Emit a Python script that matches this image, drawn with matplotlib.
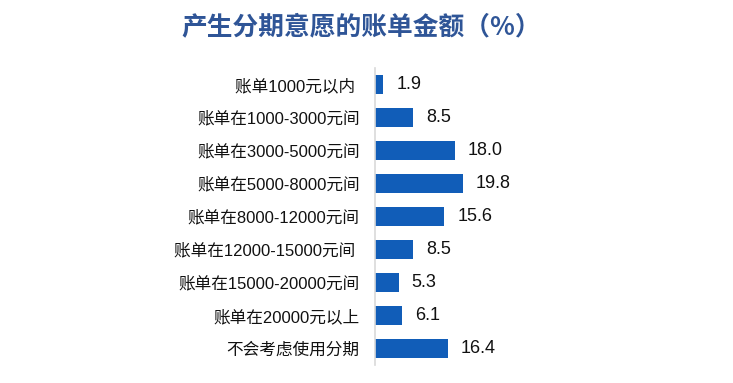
import matplotlib
matplotlib.use("Agg")
import matplotlib.pyplot as plt

categories = ["账单1000元以内 ", "账单在1000-3000元间", "账单在3000-5000元间", "账单在5000-8000元间",
              "账单在8000-12000元间", "账单在12000-15000元间 ", "账单在15000-20000元间",
              "账单在20000元以上", "不会考虑使用分期"]
values = [1.9, 8.5, 18.0, 19.8, 15.6, 8.5, 5.3, 6.1, 16.4]
value_labels = ["1.9", "8.5", "18.0", "19.8", "15.6", "8.5", "5.3", "6.1", "16.4"]
title = "产生分期意愿的账单金额（%）"

fam = ['Liberation Sans', 'Noto Sans CJK SC', 'DejaVu Sans']
plt.rcParams['font.family'] = fam

W, H = 733, 383
fig = plt.figure(figsize=(W / 100, H / 100), dpi=100)
ax_left, ax_right = 375, 700
ax_top, ax_bottom = 68, 365
ax = fig.add_axes([ax_left / W, 1 - ax_bottom / H, (ax_right - ax_left) / W, (ax_bottom - ax_top) / H])

ypos = list(range(len(categories)))
ax.barh(ypos, values, height=0.56, color='#115DB8')
ax.set_ylim(len(categories) - 0.5, -0.5)
ax.set_xlim(0, (ax_right - ax_left) / 4.44)

for y, v, lab in zip(ypos, values, value_labels):
    ax.annotate(lab, xy=(v, y), xytext=(9.5, 0), textcoords='offset points',
                va='center', ha='left', fontsize=13, color='#111111', family=fam)

ax.set_yticks(ypos)
ax.set_yticklabels(categories, fontsize=12, color='#111111')
ax.tick_params(axis='y', length=0, pad=11)
ax.set_xticks([])
for s in ['top', 'right', 'bottom']:
    ax.spines[s].set_visible(False)
ax.spines['left'].set_color('#D9D9D9')
ax.spines['left'].set_linewidth(1.2)

fig.text(361 / W, 1 - 27 / H, title, ha='center', va='center', fontsize=18.5,
         fontweight='bold', color='#2F5597', family=['Noto Sans CJK SC', 'DejaVu Sans'])

fig.savefig("out.png", dpi=100)
